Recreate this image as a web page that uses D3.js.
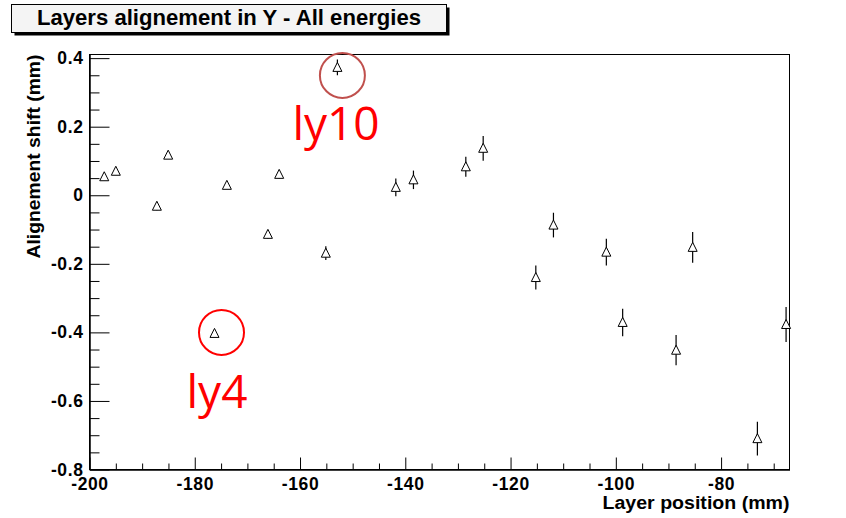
<!DOCTYPE html>
<html>
<head>
<meta charset="utf-8">
<script src="https://cdn.jsdelivr.net/npm/d3@7"></script>
<style>
  html, body { margin: 0; padding: 0; background: #fff; }
  svg { display: block; }
  .tick text { font-family: "Liberation Sans", Arial, Helvetica, sans-serif; font-weight: bold; font-size: 17.5px; letter-spacing: 0.6px; fill: #000; }
</style>
</head>
<body>
<svg id="chart" width="846" height="518"></svg>
<script>
// Layer positions along the beam axis (mm)
const layerPosition = [
  -197.2, -195.0, -187.2, -185.05, -176.25, -173.9, -166.1, -163.96,
  -155.1, -152.9, -141.8, -138.45, -128.5, -125.2, -115.2, -111.85,
  -101.8, -98.7, -88.55, -85.4, -73.1, -67.65
];
// Fitted alignment shift in Y for each layer (mm)
const alignShift = [
  0.054, 0.070, -0.032, 0.117, -0.403, 0.029, -0.114, 0.061,
  -0.169, 0.373, 0.023, 0.045, 0.083, 0.137, -0.240, -0.087,
  -0.166, -0.371, -0.452, -0.152, -0.710, -0.377
];
// Statistical uncertainty on the shift (mm)
const shiftError = [
  0.008, 0.008, 0.012, 0.008, 0.008, 0.010, 0.012, 0.012,
  0.020, 0.023, 0.026, 0.027, 0.029, 0.036, 0.035, 0.036,
  0.039, 0.040, 0.044, 0.045, 0.049, 0.051
];

const xMajorTicks = [-200, -180, -160, -140, -120, -100, -80];
const yMajorTicks = [-0.8, -0.6, -0.4, -0.2, 0, 0.2, 0.4];
const xMinorTicks = d3.range(-195, -66, 5).filter(v => v % 20 !== 0);
const yMinorTicks = d3.range(-0.75, 0.41, 0.05).map(v => +v.toFixed(2))
  .filter(v => Math.round(v * 100) % 20 !== 0);

// Highlighted layers: index into the arrays above
const callouts = [
  { name: "ly10", index: 9, ring: "#c0504d", dx: 5, dy: 8, tx: -50, ty: 65 },
  { name: "ly4",  index: 4, ring: "#ff0000", dx: 7, dy: -1, tx: -35, ty: 76 }
];

const titleText = "Layers alignement in Y - All energies";
const xTitle = "Layer position (mm)";
const yTitle = "Alignement shift (mm)";

const svg = d3.select("#chart");
const frame = { left: 89.5, right: 789.5, top: 54.5, bottom: 469.5 };
const pxPerMm = 342.8;

const x = d3.scaleLinear().domain([-200, -67]).range([frame.left, frame.right]);
const y = d3.scaleLinear()
  .domain([-0.8, -0.8 + (frame.bottom - frame.top) / pxPerMm])
  .range([frame.bottom, frame.top]);

const font = '"Liberation Sans", Arial, Helvetica, sans-serif';
// plain hyphen-minus for negative tick labels
const fmtX = d => String(d);
const fmtY = d => d === 0 ? "0" : d.toFixed(1);

// Plot frame
svg.append("rect")
  .attr("x", frame.left).attr("y", frame.top)
  .attr("width", frame.right - frame.left).attr("height", frame.bottom - frame.top)
  .attr("fill", "none").attr("stroke", "#000").attr("stroke-width", 1);

// X axis: major ticks with labels, then minor ticks
svg.append("g").attr("transform", `translate(0,${frame.bottom})`)
  .call(d3.axisBottom(x).tickValues(xMajorTicks).tickFormat(fmtX)
    .tickSizeInner(-12).tickSizeOuter(0).tickPadding(8));
svg.append("g").attr("transform", `translate(0,${frame.bottom})`)
  .call(d3.axisBottom(x).tickValues(xMinorTicks).tickFormat("")
    .tickSizeInner(-6).tickSizeOuter(0));

// Y axis
svg.append("g").attr("transform", `translate(${frame.left},0)`)
  .call(d3.axisLeft(y).tickValues(yMajorTicks).tickFormat(fmtY)
    .tickSizeInner(-20).tickSizeOuter(0).tickPadding(6));
svg.append("g").attr("transform", `translate(${frame.left},0)`)
  .call(d3.axisLeft(y).tickValues(yMinorTicks).tickFormat("")
    .tickSizeInner(-10).tickSizeOuter(0));

svg.selectAll(".domain").attr("stroke", "#000");
svg.selectAll(".tick line").attr("stroke", "#000");

// Axis titles
svg.append("text")
  .attr("x", frame.right).attr("y", 509)
  .attr("text-anchor", "end")
  .attr("font-family", font).attr("font-weight", "bold").attr("font-size", 18)
  .attr("textLength", 187).attr("lengthAdjust", "spacingAndGlyphs")
  .text(xTitle);

svg.append("text")
  .attr("transform", `translate(40,${frame.top}) rotate(-90)`)
  .attr("text-anchor", "end")
  .attr("font-family", font).attr("font-weight", "bold").attr("font-size", 18)
  .attr("textLength", 204).attr("lengthAdjust", "spacingAndGlyphs")
  .text(yTitle);

// Title pave with drop shadow
const pave = { x: 11.5, y: 4.5, w: 435, h: 28 };
svg.append("rect")
  .attr("x", pave.x + 3).attr("y", pave.y + 3).attr("width", pave.w).attr("height", pave.h)
  .attr("fill", "#000");
svg.append("rect")
  .attr("x", pave.x).attr("y", pave.y).attr("width", pave.w).attr("height", pave.h)
  .attr("fill", "#f4f4f4").attr("stroke", "#000").attr("stroke-width", 1);
svg.append("text")
  .attr("x", pave.x + pave.w / 2).attr("y", 25)
  .attr("text-anchor", "middle")
  .attr("font-family", font).attr("font-weight", "bold").attr("font-size", 21.5)
  .attr("textLength", 384).attr("lengthAdjust", "spacingAndGlyphs")
  .text(titleText);

// Data points with vertical error bars
const points = layerPosition.map((p, i) => ({ p, s: alignShift[i], e: shiftError[i] }));
const g = svg.append("g");
g.selectAll("line.err").data(points).join("line")
  .attr("class", "err")
  .attr("x1", d => x(d.p)).attr("x2", d => x(d.p))
  .attr("y1", d => y(d.s - d.e)).attr("y2", d => y(d.s + d.e))
  .attr("stroke", "#000").attr("stroke-width", 1.2);
g.selectAll("path.mk").data(points).join("path")
  .attr("class", "mk")
  .attr("d", d => {
    const cx = x(d.p), cy = y(d.s);
    return `M${cx},${cy - 5}L${cx + 4.5},${cy + 4}L${cx - 4.5},${cy + 4}Z`;
  })
  .attr("fill", "#fff").attr("stroke", "#000").attr("stroke-width", 1);

// Callouts for the two outlier layers
callouts.forEach(c => {
  const cx = x(layerPosition[c.index]) + c.dx;
  const cy = y(alignShift[c.index]) + c.dy;
  svg.append("circle")
    .attr("cx", cx).attr("cy", cy).attr("r", 22.5)
    .attr("fill", "none").attr("stroke", c.ring).attr("stroke-width", 2);
  svg.append("text")
    .attr("x", cx + c.tx).attr("y", cy + c.ty)
    .attr("font-family", '"Open Sans", "Noto Sans", sans-serif').attr("font-size", 46)
    .attr("fill", "#ff0000")
    .text(c.name);
});
</script>
</body>
</html>
